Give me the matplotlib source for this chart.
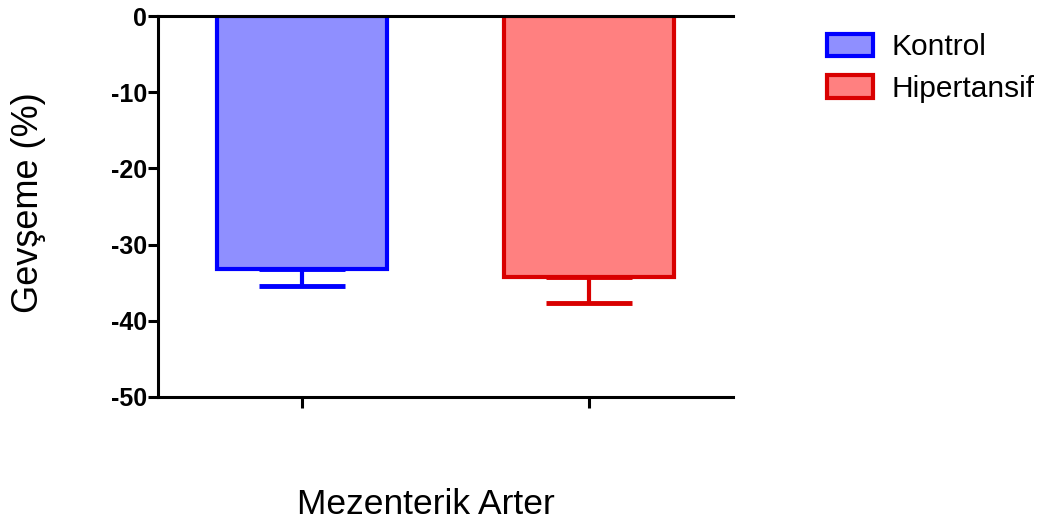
import numpy as np
import matplotlib
matplotlib.use("Agg")
import matplotlib.pyplot as plt
from matplotlib.patches import Patch

plt.rcParams['font.family'] = ['Liberation Sans', 'DejaVu Sans']

# Veriler
groups = ["Kontrol", "Hipertansif"]
means = [-33.2, -34.3]
sems = [2.2, 3.4]
fills = ["#8F8FFF", "#FF8080"]
edges = ["#0000FF", "#D90000"]
yticks = [0, -10, -20, -30, -40, -50]

fig = plt.figure(figsize=(10.55, 5.27), dpi=100)
ax = fig.add_axes([0.1498, 0.2467, 0.545, 0.7229])

x = np.arange(len(groups))
for i in range(len(groups)):
    ax.bar(x[i], means[i], width=0.59, color=fills[i], edgecolor=edges[i],
           linewidth=3, zorder=2)
    ax.errorbar(x[i], means[i], yerr=[[sems[i]], [0]], fmt='none',
                ecolor=edges[i], elinewidth=3, capsize=31, capthick=3.5,
                zorder=3)

ax.set_xlim(-0.5, 1.5)
ax.set_ylim(-50, 0)
ax.set_yticks(yticks)
ax.set_yticklabels([str(t) for t in yticks], fontsize=18, fontweight='bold')
ax.set_xticks(x)
ax.set_xticklabels([])

ax.spines['right'].set_visible(False)
for s in ['left', 'bottom', 'top']:
    ax.spines[s].set_linewidth(2.2)
ax.tick_params(axis='y', direction='out', length=7, width=2.2, pad=1)
ax.tick_params(axis='x', direction='out', length=8, width=2.2)

fig.text(0.027, 0.615, "Gevşeme (%)", rotation=90, fontsize=26,
         ha='center', va='center')
fig.text(0.404, 0.042, "Mezenterik Arter", fontsize=25.5, ha='center', va='center')

handles = [Patch(facecolor=fills[i], edgecolor=edges[i], linewidth=3)
           for i in range(len(groups))]
fig.legend(handles, groups, loc='upper left', bbox_to_anchor=(0.77, 0.965),
           frameon=False, fontsize=21.5, handlelength=1.54, handleheight=0.8,
           handletextpad=0.6, labelspacing=0.45, borderpad=0)

fig.savefig("out.png", dpi=100)
